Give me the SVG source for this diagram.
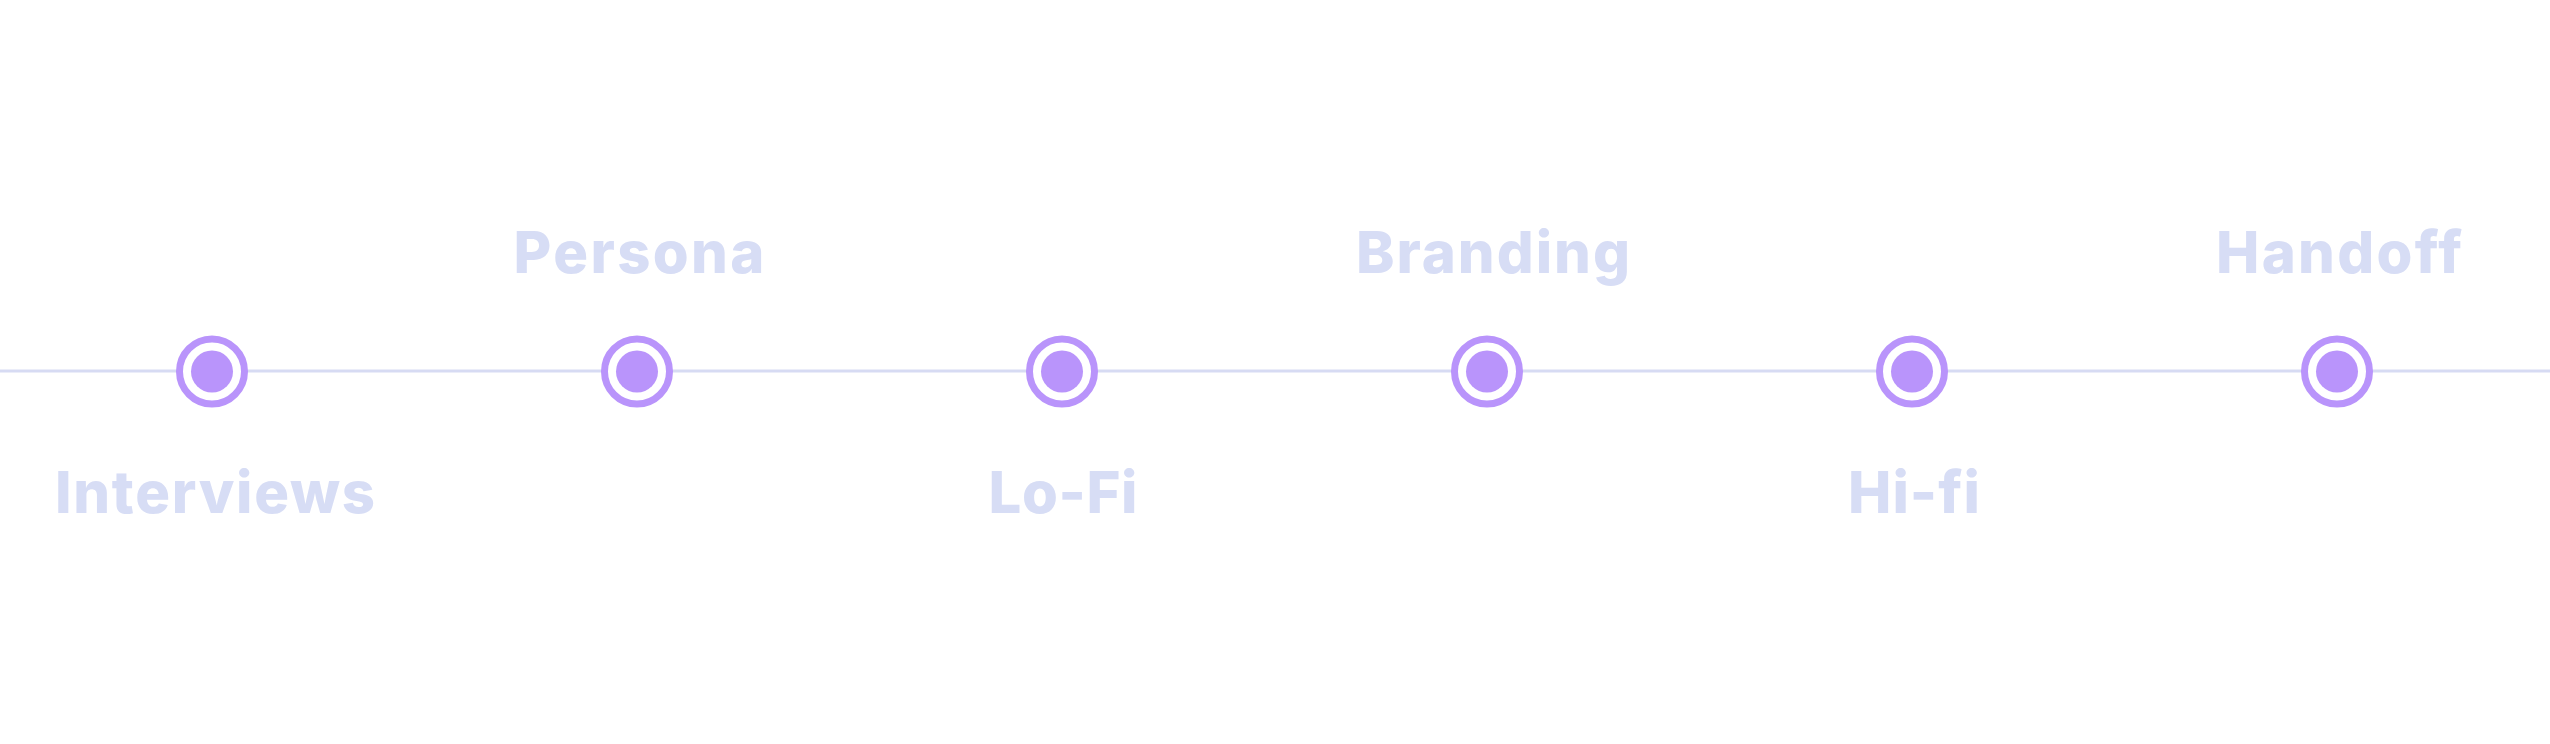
<svg xmlns="http://www.w3.org/2000/svg" width="2550" height="744" viewBox="0 0 2550 744">
<style>
.ring{fill:#ffffff;stroke:#b994fb;stroke-width:7}
.dot{fill:#b994fb}
.lbl{font-family:Inter,"Open Sans","Liberation Sans",sans-serif;font-weight:800;font-size:58px;fill:#d7ddf5;text-anchor:middle}
.track{stroke:#d7dbf3;stroke-width:3}
</style>
<rect width="2550" height="744" fill="#ffffff"/>
<g id="connectors">
<line class="track" x1="0" y1="371" x2="2550" y2="371"/>
</g>
<g id="node-interviews">
<circle class="ring" cx="212" cy="371.5" r="32.5"/>
<circle class="dot" cx="212" cy="371.5" r="21"/>
<text class="lbl" x="215" y="513" textLength="320" lengthAdjust="spacing">Interviews</text>
</g>
<g id="node-persona">
<circle class="ring" cx="637" cy="371.5" r="32.5"/>
<circle class="dot" cx="637" cy="371.5" r="21"/>
<text class="lbl" x="639" y="273" textLength="251" lengthAdjust="spacing">Persona</text>
</g>
<g id="node-lofi">
<circle class="ring" cx="1062" cy="371.5" r="32.5"/>
<circle class="dot" cx="1062" cy="371.5" r="21"/>
<text class="lbl" x="1063" y="513" textLength="149" lengthAdjust="spacing">Lo-Fi</text>
</g>
<g id="node-branding">
<circle class="ring" cx="1487" cy="371.5" r="32.5"/>
<circle class="dot" cx="1487" cy="371.5" r="21"/>
<text class="lbl" x="1493" y="273" textLength="274" lengthAdjust="spacing">Branding</text>
</g>
<g id="node-hifi">
<circle class="ring" cx="1912" cy="371.5" r="32.5"/>
<circle class="dot" cx="1912" cy="371.5" r="21"/>
<text class="lbl" x="1914" y="513" textLength="132" lengthAdjust="spacing">Hi-fi</text>
</g>
<g id="node-handoff">
<circle class="ring" cx="2337" cy="371.5" r="32.5"/>
<circle class="dot" cx="2337" cy="371.5" r="21"/>
<text class="lbl" x="2339" y="273" textLength="246" lengthAdjust="spacing">Handoff</text>
</g>
</svg>
